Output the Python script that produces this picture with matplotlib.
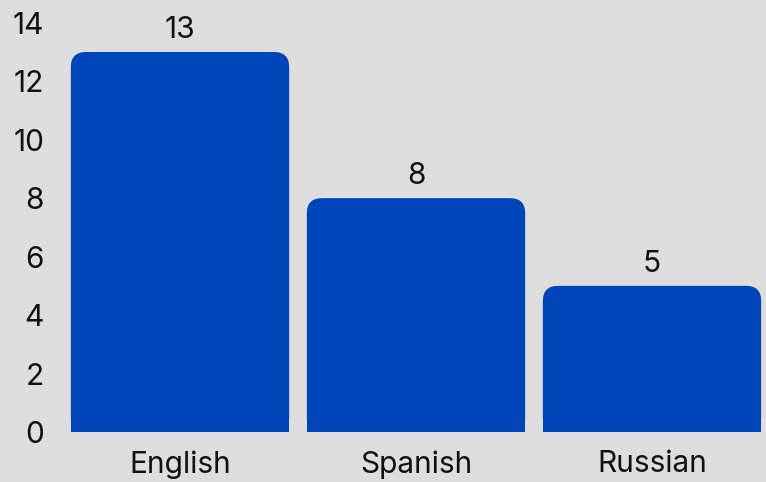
import matplotlib
matplotlib.use("Agg")
import matplotlib.pyplot as plt
from matplotlib.patches import FancyBboxPatch
import numpy as np

languages = ["English", "Spanish", "Russian"]
counts = [13, 8, 5]

bg = "#dddddd"
blue = "#0044b9"

plt.rcParams['font.family'] = ['Inter', 'DejaVu Sans']

fig = plt.figure(figsize=(7.66, 4.82), dpi=100, facecolor=bg)
ax = fig.add_axes([62 / 766, 50 / 482, 704 / 766, 432 / 482])
ax.set_facecolor(bg)

x = np.arange(len(languages))
width = 0.925
ax.set_xlim(-0.5, 2.483)
ax.set_ylim(0, 14.78)

# rounded top corners: radius ~15px
rx = 0.064
ry = 0.514
bars = ax.bar(x, counts, width, color=blue)
for b in bars:
    bx, bw, bh = b.get_x(), b.get_width(), b.get_height()
    top = FancyBboxPatch((bx, 0), bw, bh,
                         boxstyle=f"round,pad=0,rounding_size={rx}",
                         mutation_aspect=ry / rx,
                         facecolor=blue, edgecolor="none")
    ax.add_patch(top)
    b.set_height(bh - ry)

for xi, v in zip(x, counts):
    ax.annotate(str(v), (xi, v), xytext=(0, 6), textcoords="offset points",
                ha="center", va="bottom", fontsize=21.5, color="#111111")

ax.set_xticks(x, languages)
ax.set_yticks(range(0, 15, 2))
ax.tick_params(axis='both', length=0, labelsize=21.5, colors="#111111")
ax.tick_params(axis='x', pad=13)
ax.tick_params(axis='y', pad=13)
for s in ax.spines.values():
    s.set_visible(False)

fig.savefig("out.png", dpi=100, facecolor=bg)
